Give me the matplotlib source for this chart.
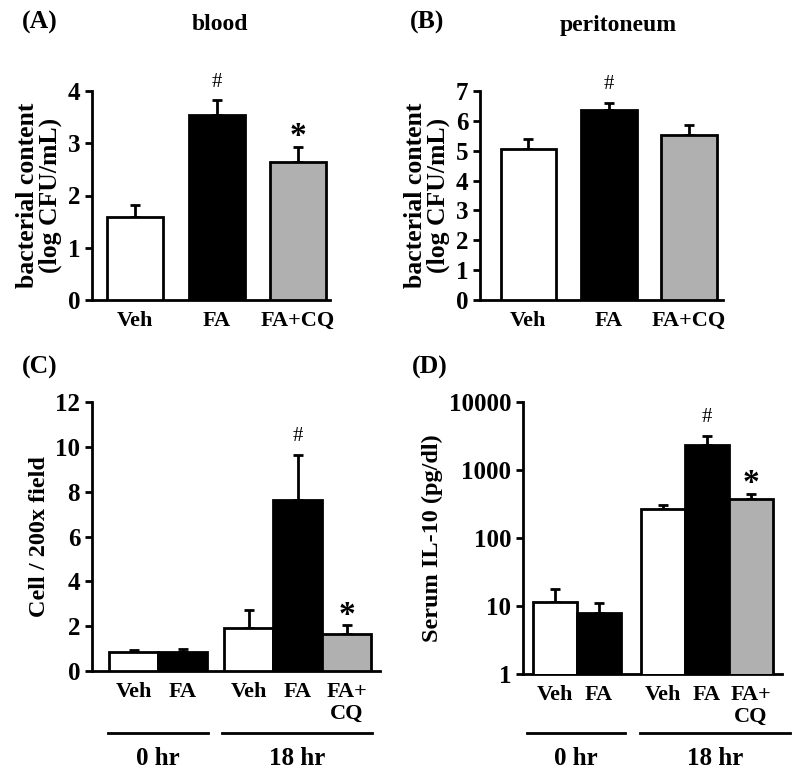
import numpy as np
import matplotlib.pyplot as plt
from matplotlib.transforms import blended_transform_factory

plt.rcParams['font.family'] = ['Liberation Serif', 'DejaVu Serif']
plt.rcParams['font.weight'] = 'bold'

W, H = 800, 779

# --- data ---
ab_labels = ['Veh', 'FA', 'FA+CQ']
blood_mean = [1.58, 3.55, 2.65]
blood_err = [0.24, 0.27, 0.28]
blood_marks = ['', '#', '*']
perit_mean = [5.05, 6.35, 5.53]
perit_err = [0.33, 0.25, 0.32]
perit_marks = ['', '#', '']

cd_labels = ['Veh', 'FA', 'Veh', 'FA', 'FA+\nCQ']
cell_mean = [0.85, 0.85, 1.9, 7.65, 1.65]
cell_err = [0.1, 0.15, 0.8, 2.0, 0.4]
cell_marks = ['', '', '', '#', '*']
il10_mean = [11.5, 7.8, 270, 2300, 370]
il10_err = [6.5, 3.2, 40, 900, 80]
il10_marks = ['', '', '', '#', '*']
groups = ['0 hr', '18 hr']

ab_colors = ['white', 'black', '#b0b0b0']
cd_colors = ['white', 'black', 'white', 'black', '#b0b0b0']


def px_axes(x0, x1, y_top, y_bot):
    return fig.add_axes([x0 / W, 1 - y_bot / H, (x1 - x0) / W, (y_bot - y_top) / H])


def style(ax):
    for s in ['top', 'right']:
        ax.spines[s].set_visible(False)
    for s in ['left', 'bottom']:
        ax.spines[s].set_linewidth(2)
    ax.tick_params(axis='x', length=0, labelsize=16, pad=8)
    ax.tick_params(axis='y', length=5, width=2, labelsize=18, which='major')
    ax.tick_params(axis='y', which='minor', length=0)


def bars(ax, x, mean, err, colors, width, marks):
    ax.bar(x, mean, width=width, color=colors, edgecolor='black', linewidth=2, zorder=3)
    ax.errorbar(x, mean, yerr=[np.zeros(len(err)), err], fmt='none', ecolor='black',
                elinewidth=2, capsize=3.5, capthick=2, zorder=2)
    for xi, m, e, mk in zip(x, mean, err, marks):
        if mk == '#':
            ax.annotate(mk, (xi, m + e), xytext=(0, 18), textcoords='offset pixels',
                        ha='center', va='center', fontsize=15, fontweight='normal')
        elif mk == '*':
            ax.annotate(mk, (xi, m + e), xytext=(0, 10), textcoords='offset pixels',
                        ha='center', va='center', fontsize=24, fontweight='bold')


def group_lines(ax, spans, y_line, y_text):
    tr = blended_transform_factory(ax.transData, ax.transAxes)
    for (a, b), g in zip(spans, groups):
        ax.plot([a, b], [y_line, y_line], color='black', lw=2, transform=tr, clip_on=False)
        ax.text((a + b) / 2, y_text, g, ha='center', va='center', fontsize=18,
                fontweight='bold', transform=tr)


fig = plt.figure(figsize=(W / 100, H / 100), dpi=100)

# (A) blood
ax = px_axes(92, 330, 91, 300)
style(ax)
xa = np.arange(3)
bars(ax, xa, blood_mean, blood_err, ab_colors, 0.69, blood_marks)
ax.set_xlim(-0.53, 2.39)
ax.set_ylim(0, 4)
ax.set_yticks(range(0, 5))
ax.set_xticks(xa)
ax.set_xticklabels(ab_labels)
ax.set_ylabel('bacterial content\n(log CFU/mL)', fontsize=18.5, fontweight='bold', linespacing=1.0)
fig.text(22 / W, 1 - 22 / H, '(A)', fontsize=18.5, fontweight='bold', va='center')
fig.text(220 / W, 1 - 24 / H, 'blood', fontsize=17, fontweight='bold', ha='center', va='center')

# (B) peritoneum
ax = px_axes(480, 723, 91, 300)
style(ax)
bars(ax, xa, perit_mean, perit_err, ab_colors, 0.69, perit_marks)
ax.set_xlim(-0.6, 2.42)
ax.set_ylim(0, 7)
ax.set_yticks(range(0, 8))
ax.set_xticks(xa)
ax.set_xticklabels(ab_labels)
ax.set_ylabel('bacterial content\n(log CFU/mL)', fontsize=18.5, fontweight='bold', linespacing=1.0)
fig.text(410 / W, 1 - 22 / H, '(B)', fontsize=18.5, fontweight='bold', va='center')
fig.text(618 / W, 1 - 25 / H, 'peritoneum', fontsize=17, fontweight='bold', ha='center', va='center')

# (C) cells
xc = np.array([0, 1, 2.35, 3.35, 4.35])
ax = px_axes(92, 380, 402, 671)
style(ax)
bars(ax, xc, cell_mean, cell_err, cd_colors, 1.0, cell_marks)
ax.set_xlim(-0.85, 5.03)
ax.set_ylim(0, 12)
ax.set_yticks(range(0, 13, 2))
ax.set_xticks(xc)
ax.set_xticklabels(cd_labels, linespacing=1.1, va='top')
ax.set_ylabel('Cell / 200x field', fontsize=17.5, fontweight='bold')
group_lines(ax, [(-0.52, 1.52), (1.8, 4.87)], -0.23, -0.325)
fig.text(22 / W, 1 - 367 / H, '(C)', fontsize=18.5, fontweight='bold', va='center')

# (D) IL-10
xd = np.array([0, 1, 2.45, 3.45, 4.45])
ax = px_axes(523, 782, 402, 674)
style(ax)
ax.set_yscale('log')
ax.set_ylim(1, 10000)
bars(ax, xd, il10_mean, il10_err, cd_colors, 1.0, il10_marks)
ax.set_xlim(-0.73, 5.16)
ax.set_yticks([1, 10, 100, 1000, 10000])
ax.set_yticklabels(['1', '10', '100', '1000', '10000'])
ax.set_xticks(xd)
ax.set_xticklabels(cd_labels, linespacing=1.1, va='top')
ax.set_ylabel('Serum IL-10 (pg/dl)', fontsize=17.5, fontweight='bold')
group_lines(ax, [(-0.64, 1.6), (1.93, 5.34)], -0.217, -0.31)
fig.text(412 / W, 1 - 367 / H, '(D)', fontsize=18.5, fontweight='bold', va='center')

fig.savefig('out.png', dpi=100)
